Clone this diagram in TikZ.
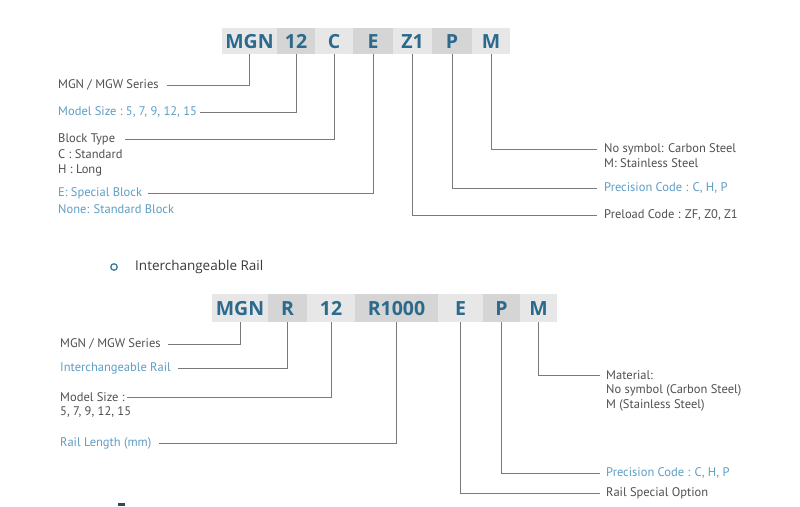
\documentclass[tikz,border=0pt]{standalone}
\usepackage{fontspec}
\setmainfont{PT Sans}
\newfontfamily\codefont{Open Sans}
\newfontfamily\headfont{Open Sans}
\definecolor{codeblue}{HTML}{2B6A8C}
\definecolor{boxA}{HTML}{E7E7E7}
\definecolor{boxB}{HTML}{D5D5D5}
\definecolor{lbl}{HTML}{505050}
\definecolor{lblblue}{HTML}{5E9EC4}
\definecolor{wire}{HTML}{7A7A7A}
\definecolor{headc}{HTML}{3A3A3A}
\definecolor{bullc}{HTML}{3A7EA0}
\definecolor{markc}{HTML}{2D4B5A}
\tikzset{
  codebox/.style={inner sep=0pt, text=codeblue, font=\codefont\bfseries\fontsize{19.5}{19.5}\selectfont, text height=14pt, text depth=0pt},
  lab/.style={inner sep=0pt, anchor=west, text=lbl, font=\fontsize{12.5}{13}\selectfont},
  labb/.style={lab, text=lblblue},
  wire/.style={draw=wire, line width=0.8pt},
}
\begin{document}
\begin{tikzpicture}[x=1pt,y=-1pt]
\fill[white] (0,0) rectangle (800,506);
\useasboundingbox (0,0) rectangle (800,506);

% ---------- top code bar ----------
\begin{scope}[every node/.append style={codebox, minimum height=26pt}]
\node[fill=boxA, minimum width=55pt] (t1) at (249.5,41) {MGN};
\node[fill=boxB, minimum width=38pt] (t2) at (296,41) {12};
\node[fill=boxA, minimum width=38pt] (t3) at (334,41) {C};
\node[fill=boxB, minimum width=40pt] (t4) at (373,41) {E};
\node[fill=boxA, minimum width=39pt] (t5) at (412.5,41) {Z1};
\node[fill=boxB, minimum width=40pt] (t6) at (452,41) {P};
\node[fill=boxA, minimum width=38pt] (t7) at (491,41) {M};
\end{scope}

% left labels (top)
\node[lab]  (a1) at (58,85)  {MGN / MGW Series};
\node[labb] (a2) at (58,112) {Model Size :\ 5, 7, 9, 12, 15};
\node[lab]  (a3) at (58,139) {Block Type};
\node[lab]  (a3b) at (58,154.5) {C : Standard};
\node[lab]  (a3c) at (58,170) {H : Long};
\node[labb] (a4) at (58,193) {E: Special Block};
\node[labb] (a4b) at (58,209) {None: Standard Block};

% right labels (top)
\node[lab]  (b1) at (604,149) {No symbol: Carbon Steel};
\node[lab]  (b1b) at (604,163.5) {M: Stainless Steel};
\node[labb] (b2) at (604,188) {Precision Code : C, H, P};
\node[lab]  (b3) at (604,215) {Preload Code : ZF, Z0, Z1};

\draw[wire] (t1.south) |- ([xshift=8pt]a1.east);
\draw[wire] (t2.south) |- ([xshift=3pt]a2.east);
\draw[wire] (t3.south) |- ([xshift=10pt]a3.east);
\draw[wire] (t4.south) |- ([xshift=6pt]a4.east);
\draw[wire] (t7.south) |- ([xshift=-7pt]b1.west);
\draw[wire] (t6.south) |- ([xshift=-7pt]b2.west);
\draw[wire] (t5.south) |- ([xshift=-7pt]b3.west);

% ---------- section heading ----------
\node[draw=bullc, line width=1.3pt, circle, inner sep=0pt, minimum size=6.5pt] (bul) at (114,267) {};
\node[inner sep=0pt, anchor=west, text=headc, font=\headfont\fontsize{13.5}{14}\selectfont] (head) at (135,267) {Interchangeable Rail};

% ---------- bottom code bar ----------
\begin{scope}[every node/.append style={codebox, minimum height=28pt}]
\node[fill=boxA, minimum width=56pt] (u1) at (240,308) {MGN};
\node[fill=boxB, minimum width=39pt] (u2) at (287.5,308) {R};
\node[fill=boxA, minimum width=48pt] (u3) at (331,308) {12};
\node[fill=boxB, minimum width=83pt] (u4) at (396.5,308) {R1000};
\node[fill=boxA, minimum width=45pt] (u5) at (460.5,308) {E};
\node[fill=boxB, minimum width=37pt] (u6) at (501.5,308) {P};
\node[fill=boxA, minimum width=37pt] (u7) at (538.5,308) {M};
\end{scope}

% left labels (bottom)
\node[lab]  (c1) at (60,344) {MGN / MGW Series};
\node[labb] (c2) at (60,368) {Interchangeable Rail};
\node[lab]  (c3) at (60,397) {Model Size :};
\node[lab]  (c3b) at (60,411.5) {5, 7, 9, 12, 15};
\node[labb] (c4) at (60,443) {Rail Length (mm)};

% right labels (bottom)
\node[lab]  (d1) at (606,375) {Material:};
\node[lab]  (d1b) at (606,390.5) {No symbol (Carbon Steel)};
\node[lab]  (d1c) at (606,405) {M (Stainless Steel)};
\node[labb] (d2) at (606,473) {Precision Code : C, H, P};
\node[lab]  (d3) at (606,493) {Rail Special Option};

\draw[wire] (u1.south) |- ([xshift=7pt]c1.east);
\draw[wire] (u2.south) |- ([xshift=7pt]c2.east);
\draw[wire] (u3.south) |- ([xshift=2pt]c3.east);
\draw[wire] (u4.south) |- ([xshift=7pt]c4.east);
\draw[wire] (u7.south) |- ([xshift=-6pt]d1.west);
\draw[wire] (u6.south) |- ([xshift=-6pt]d2.west);
\draw[wire] (u5.south) |- ([xshift=-6pt]d3.west);

% cut-off mark at bottom edge
\fill[markc] (118,503) rectangle (125,506);
\end{tikzpicture}
\end{document}
